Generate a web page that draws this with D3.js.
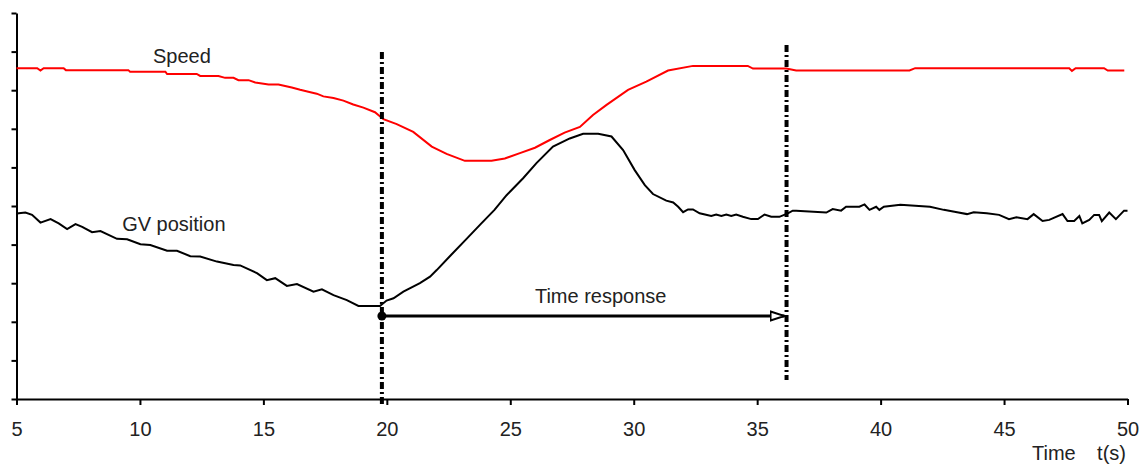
<!DOCTYPE html>
<html>
<head>
<meta charset="utf-8">
<script src="https://cdn.jsdelivr.net/npm/d3@7"></script>
<style>
  body { margin: 0; background: #fff; }
  svg text { font-family: "Liberation Sans", Arial, sans-serif; fill: #222; }
</style>
</head>
<body>
<svg id="chart" width="1145" height="464"></svg>
<script>
// Speed trace (red), time in s, value in arbitrary units
const speedTime = [5, 5.84, 5.97, 6.1, 6.91, 7.0, 9.53, 9.6, 11.03, 11.1, 12.3, 12.44, 13.18, 13.45, 13.79, 13.99,
  14.4, 14.67, 15.21, 15.61, 15.88, 16.15, 16.49, 16.82, 17.16, 17.43, 17.84, 18.24, 18.64, 19.05, 19.52, 19.86,
  20.4, 21.07, 21.82, 22.42, 23.16, 24.24, 24.78, 25.39, 26.0, 26.6, 27.2, 27.82, 28.35, 28.9, 29.77, 30.51,
  31.39, 32.4, 34.62, 34.83, 36.18, 36.58, 41.17, 41.4, 47.64, 47.75, 47.9, 49.05, 49.2, 49.87];
const speedValue = [8.57, 8.57, 8.51, 8.57, 8.57, 8.52, 8.52, 8.48, 8.48, 8.42, 8.42, 8.37, 8.37, 8.32, 8.32, 8.26,
  8.26, 8.20, 8.15, 8.15, 8.11, 8.07, 8.01, 7.96, 7.91, 7.84, 7.80, 7.73, 7.63, 7.55, 7.43, 7.25,
  7.12, 6.92, 6.54, 6.35, 6.17, 6.17, 6.23, 6.37, 6.51, 6.71, 6.90, 7.05, 7.36, 7.62, 8.01, 8.22,
  8.51, 8.63, 8.63, 8.56, 8.56, 8.51, 8.51, 8.57, 8.57, 8.50, 8.57, 8.57, 8.51, 8.51];

// Guide vane position trace (black)
const gvTime = [5, 5.09, 5.36, 5.63, 5.97, 6.38, 6.71, 7.05, 7.39, 7.66, 8.06, 8.4, 9.07, 9.48, 10.02, 10.42,
  11.1, 11.5, 12.04, 12.44, 13.12, 13.79, 14.06, 14.74, 15.14, 15.48, 15.95, 16.36, 17.03, 17.37, 17.84, 18.38,
  18.85, 19.72, 19.99, 20.27, 20.67, 21.34, 21.75, 22.02, 22.6, 23.2, 23.8, 24.36, 24.85, 25.52, 26.06, 26.73,
  27.41, 27.95, 28.56, 29.1, 29.57, 30.04, 30.45, 30.78, 31.32, 31.6, 31.8, 32.0, 32.2, 32.4, 32.67, 33.14,
  33.34, 33.55, 33.75, 33.95, 34.15, 34.42, 34.76, 35.03, 35.3, 35.57, 35.9, 36.24, 36.44, 36.58, 37.8, 38.06,
  38.4, 38.6, 39.14, 39.35, 39.55, 39.82, 39.95, 40.13, 40.8, 42.0, 42.56, 43.1, 43.5, 43.77, 44.3, 44.8,
  45.2, 45.5, 45.95, 46.2, 46.56, 46.83, 47.37, 47.57, 47.84, 48.05, 48.17, 48.45, 48.65, 48.85, 48.96, 49.26,
  49.53, 49.86, 50];
const gvValue = [4.80, 4.81, 4.83, 4.77, 4.57, 4.66, 4.55, 4.40, 4.53, 4.46, 4.32, 4.35, 4.15, 4.14, 4.01, 3.99,
  3.84, 3.84, 3.70, 3.69, 3.56, 3.47, 3.46, 3.26, 3.08, 3.13, 2.93, 2.98, 2.78, 2.84, 2.69, 2.56,
  2.41, 2.41, 2.55, 2.61, 2.78, 3.00, 3.17, 3.34, 3.73, 4.13, 4.53, 4.90, 5.28, 5.72, 6.11, 6.54,
  6.75, 6.87, 6.87, 6.80, 6.45, 5.93, 5.54, 5.31, 5.14, 5.09, 4.98, 4.84, 4.91, 4.91, 4.81, 4.74,
  4.78, 4.74, 4.78, 4.74, 4.78, 4.72, 4.66, 4.66, 4.78, 4.72, 4.72, 4.81, 4.88, 4.88, 4.83, 4.92,
  4.88, 4.98, 4.98, 5.04, 4.90, 4.98, 4.90, 4.98, 5.03, 4.98, 4.90, 4.84, 4.79, 4.84, 4.81, 4.77,
  4.66, 4.71, 4.66, 4.79, 4.61, 4.64, 4.79, 4.61, 4.61, 4.74, 4.55, 4.64, 4.77, 4.77, 4.61, 4.83,
  4.66, 4.88, 4.88];

// x ticks and y ticks (y ticks carry no labels)
const xTicks = [5, 10, 15, 20, 25, 30, 35, 40, 45, 50];
const yTicks = [0, 1, 2, 3, 4, 5, 6, 7, 8, 9, 10];

// Response markers: start / end of the time response (s)
const markerTime = [19.8, 36.19];
const markerTop = [8.99, 9.17];
const markerBottom = [-0.2, 0.49];
const arrowLevel = 2.15;

const svg = d3.select('#chart');

const x = d3.scaleLinear().domain([5, 50]).range([16.5, 1127.5]);
const y = d3.scaleLinear().domain([0, 10]).range([399, 13]);

const speed = speedTime.map((t, i) => ({ t: t, v: speedValue[i] }));
const gv = gvTime.map((t, i) => ({ t: t, v: gvValue[i] }));

const line = d3.line()
    .x(d => x(d.t))
    .y(d => y(d.v));

// Axes
const xAxis = svg.append('g')
    .attr('transform', `translate(0,${y(0)})`)
    .call(d3.axisBottom(x).tickValues(xTicks).tickSize(6).tickSizeOuter(0).tickPadding(17));
const yAxis = svg.append('g')
    .attr('transform', `translate(${x(5)},0)`)
    .call(d3.axisLeft(y).tickValues(yTicks).tickSize(5).tickSizeOuter(0).tickFormat(''));

[xAxis, yAxis].forEach(g => {
    g.select('.domain').attr('stroke', '#000').attr('stroke-width', 2);
    g.selectAll('.tick line').attr('stroke', '#000').attr('stroke-width', 2);
});
xAxis.selectAll('.tick text')
    .attr('font-size', 20)
    .attr('font-family', '"Liberation Sans", Arial, sans-serif')
    .attr('fill', '#222');

// Curves
svg.append('path')
    .datum(speed)
    .attr('fill', 'none')
    .attr('stroke', '#ff0000')
    .attr('stroke-width', 2)
    .attr('d', line);

svg.append('path')
    .datum(gv)
    .attr('fill', 'none')
    .attr('stroke', '#000')
    .attr('stroke-width', 2)
    .attr('d', line);

// Dash-dot markers
markerTime.forEach((t, i) => {
    svg.append('line')
        .attr('x1', x(t)).attr('x2', x(t))
        .attr('y1', y(markerTop[i])).attr('y2', y(markerBottom[i]))
        .attr('stroke', '#000')
        .attr('stroke-width', 4)
        .attr('stroke-dasharray', '7,3,2,3');
});

// Time response arrow
const defs = svg.append('defs');
defs.append('marker')
    .attr('id', 'head')
    .attr('viewBox', '0 0 16 12')
    .attr('refX', 15).attr('refY', 6)
    .attr('markerWidth', 16).attr('markerHeight', 12)
    .attr('markerUnits', 'userSpaceOnUse')
    .attr('orient', 'auto')
    .append('path')
    .attr('d', 'M1,1.5 L15,6 L1,10.5 Z')
    .attr('fill', '#fff')
    .attr('stroke', '#000')
    .attr('stroke-width', 2);

svg.append('line')
    .attr('x1', x(markerTime[0])).attr('x2', x(markerTime[1]) - 2)
    .attr('y1', y(arrowLevel)).attr('y2', y(arrowLevel))
    .attr('stroke', '#000')
    .attr('stroke-width', 3)
    .attr('marker-end', 'url(#head)');

svg.append('circle')
    .attr('cx', x(markerTime[0]))
    .attr('cy', y(arrowLevel))
    .attr('r', 4.5)
    .attr('fill', '#000');

// Labels
const label = (txt, t, v, anchor) => svg.append('text')
    .attr('x', x(t)).attr('y', y(v))
    .attr('font-size', 20)
    .attr('text-anchor', anchor || 'start')
    .text(txt);

label('Speed', 10.53, 8.70);
label('GV position', 9.28, 4.35);
label('Time response', 26.0, 2.48);

svg.append('text')
    .attr('x', 1032).attr('y', 460)
    .attr('font-size', 20)
    .text('Time');
svg.append('text')
    .attr('x', 1126).attr('y', 460)
    .attr('font-size', 20)
    .attr('text-anchor', 'end')
    .text('t(s)');
</script>
</body>
</html>
